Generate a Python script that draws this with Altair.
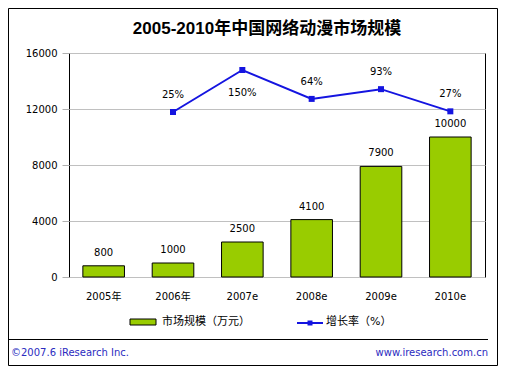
import altair as alt
import pandas as pd

# ---- data ----
years = ['2005年', '2006年', '2007e', '2008e', '2009e', '2010e']
market = [800, 1000, 2500, 4100, 7900, 10000]
growth_years = ['2006年', '2007e', '2008e', '2009e', '2010e']
growth = [25, 150, 64, 93, 27]

title_text = ['2005-2010年中国网络动漫市场规模']
legend_labels = ['市场规模（万元）', '增长率（%）']
footer_left = ['©2007.6 iResearch Inc.']
footer_right = ['www.iresearch.com.cn']

FONT = "DejaVu Sans, Noto Sans CJK SC"
TFONT = "Liberation Sans, Noto Sans CJK SC"
GREEN = "#99CC00"
BLUE = "#1414E0"
FOOT = "#2B2BC0"

bar_df = pd.DataFrame({'year': years, 'market': market})
line_df = pd.DataFrame({'year': growth_years, 'growth': growth,
                        'label': [f"{g}%" for g in growth]})

x = alt.X('year:N', sort=years,
          scale=alt.Scale(domain=years, paddingInner=0.4, paddingOuter=0.2),
          axis=alt.Axis(title=None, labelAngle=0, ticks=False, domain=False,
                        labelPadding=14, labelFont=FONT, labelFontSize=10,
                        labelColor='black'))

bscale = alt.Scale(domain=[0, 16000], nice=False)
gscale = alt.Scale(domain=[-466, 200.6], nice=False, zero=False)

ybar = alt.Y('market:Q', scale=bscale,
             axis=alt.Axis(title=None, values=[0, 4000, 8000, 12000, 16000],
                           format='d', grid=True, gridColor='#C0C0C0',
                           tickColor='#B0B0B0', tickSize=7, labelPadding=5,
                           domain=False, labelFont=FONT, labelFontSize=10,
                           labelColor='black'))

bars = alt.Chart(bar_df).mark_bar(color=GREEN, stroke='black', strokeWidth=1).encode(
    x=x, y=ybar)
bar_text = alt.Chart(bar_df).mark_text(font=FONT, fontSize=10, color='black',
                                       baseline='middle', dy=-13).encode(
    x=x, y=alt.Y('market:Q', scale=bscale, axis=None),
    text=alt.Text('market:Q', format='d'))

yg = alt.Y('growth:Q', scale=gscale, axis=None)
line = alt.Chart(line_df).mark_line(color=BLUE, strokeWidth=2).encode(x=x, y=yg)
pts = alt.Chart(line_df).mark_square(color=BLUE, size=36, opacity=1).encode(x=x, y=yg)
lt_above = alt.Chart(line_df).transform_filter(alt.datum.growth != 150).mark_text(
    font=FONT, fontSize=10, color='black', baseline='middle', dy=-17).encode(
    x=x, y=yg, text='label:N')
lt_below = alt.Chart(line_df).transform_filter(alt.datum.growth == 150).mark_text(
    font=FONT, fontSize=10, color='black', baseline='middle', dy=23).encode(
    x=x, y=yg, text='label:N')

one = pd.DataFrame({'a': [0]})

frame = alt.Chart(one).mark_rect(fillOpacity=0, stroke='black', strokeWidth=1).encode(
    x=alt.value(-60.5), x2=alt.value(428.5), y=alt.value(-44.5), y2=alt.value(312.5))

title = alt.Chart(pd.DataFrame({'t': title_text})).mark_text(
    font=TFONT, fontSize=17, fontWeight='bold', color='black',
    align='center', baseline='middle').encode(
    x=alt.value(198), y=alt.value(-24), text='t:N')

leg_rect = alt.Chart(one).mark_rect(color=GREEN, stroke='black', strokeWidth=1).encode(
    x=alt.value(61), x2=alt.value(87), y=alt.value(266), y2=alt.value(272))
leg_t1 = alt.Chart(pd.DataFrame({'t': [legend_labels[0]]})).mark_text(
    font=FONT, fontSize=11, color='black', align='left', baseline='middle').encode(
    x=alt.value(93), y=alt.value(269), text='t:N')
leg_rule = alt.Chart(one).mark_rule(color=BLUE, strokeWidth=2).encode(
    x=alt.value(228), x2=alt.value(254), y=alt.value(270))
leg_sq = alt.Chart(one).mark_square(color=BLUE, size=25, opacity=1).encode(
    x=alt.value(241), y=alt.value(270))
leg_t2 = alt.Chart(pd.DataFrame({'t': [legend_labels[1]]})).mark_text(
    font=FONT, fontSize=11, color='black', align='left', baseline='middle').encode(
    x=alt.value(257), y=alt.value(269), text='t:N')

foot_rule = alt.Chart(one).mark_rule(color='black', strokeWidth=1).encode(
    x=alt.value(-60), x2=alt.value(419), y=alt.value(286.5))
foot_l = alt.Chart(pd.DataFrame({'t': footer_left})).mark_text(
    font=FONT, fontSize=10, color=FOOT, align='left', baseline='middle').encode(
    x=alt.value(-58), y=alt.value(300), text='t:N')
foot_r = alt.Chart(pd.DataFrame({'t': footer_right})).mark_text(
    font=FONT, fontSize=10, color=FOOT, align='right', baseline='middle').encode(
    x=alt.value(419), y=alt.value(300), text='t:N')

chart = alt.layer(
    bars, bar_text, line, pts, lt_above, lt_below,
    frame, title, leg_rect, leg_t1, leg_rule, leg_sq, leg_t2,
    foot_rule, foot_l, foot_r
).resolve_scale(y='independent').properties(
    width=416, height=224,
    autosize=alt.AutoSizeParams(type='none'),
    padding={'left': 61, 'top': 45, 'right': 13, 'bottom': 89},
    background='white'
).configure_view(stroke='black', strokeWidth=1)

chart.save("out.html", embed_options={"renderer": "svg", "actions": False})
